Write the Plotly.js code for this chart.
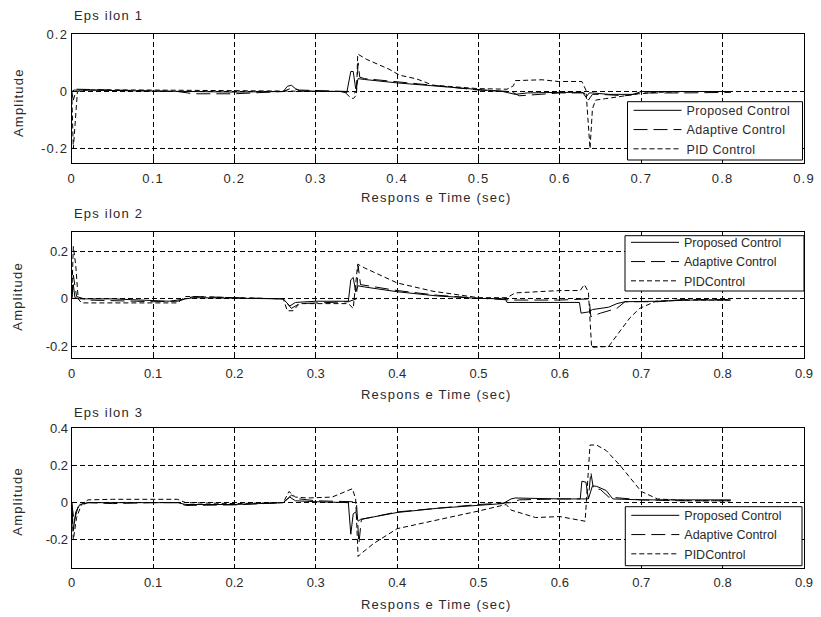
<!DOCTYPE html>
<html>
<head>
<meta charset="utf-8">
<script src="https://cdn.plot.ly/plotly-3.0.1.min.js"></script>
<style>
html,body{margin:0;padding:0;background:#fff;}
#chart{width:821px;height:617px;}
.xtick text,.ytick text,.annotation-text{letter-spacing:1.2px;}
.legendtext{letter-spacing:0.4px;}
</style>
</head>
<body>
<div id="chart"></div>
<script>
// ---------- data ----------
const seriesNames1 = ["Proposed Control", "Adaptive Control", "PID Control"];
const seriesNames2 = ["Proposed Control", "Adaptive Control", "PIDControl"];
const seriesNames3 = ["Proposed Control", "Adaptive Control", "PIDControl"];
const panelTitles = ["Eps ilon 1", "Eps ilon 2", "Eps ilon 3"];
const xTitle = "Respons e Time (sec)";
const yTitle = "Amplitude";

const xTickVals = [0, 0.1, 0.2, 0.3, 0.4, 0.5, 0.6, 0.7, 0.8, 0.9];
const xTickText = ["0", "0.1", "0.2", "0.3", "0.4", "0.5", "0.6", "0.7", "0.8", "0.9"];
const y1TickVals = [-0.2, 0, 0.2];
const y1TickText = ["-0.2", "0", "0.2"];
const y2TickVals = [-0.2, 0, 0.2];
const y2TickText = ["-0.2", "0", "0.2"];
const y3TickVals = [-0.2, 0, 0.2, 0.4];
const y3TickText = ["-0.2", "0", "0.2", "0.4"];

// Epsilon 1
const e1PropT = [0, 0.003, 0.008, 0.05, 0.1, 0.13, 0.2, 0.26, 0.265, 0.27, 0.275, 0.28, 0.33, 0.338, 0.341, 0.343, 0.346, 0.349, 0.352, 0.36, 0.4, 0.45, 0.5, 0.53, 0.545, 0.56, 0.6, 0.628, 0.632, 0.636, 0.64, 0.66, 0.69, 0.7, 0.75, 0.81];
const e1PropY = [0, 0.005, 0.005, 0.004, 0.003, 0, -0.002, 0, 0.018, 0.022, 0.01, 0.002, 0, -0.005, 0.05, 0.07, 0.07, 0.01, 0.045, 0.042, 0.03, 0.018, 0.005, 0, -0.01, -0.005, -0.003, -0.003, -0.02, -0.005, -0.005, -0.01, -0.01, 0, 0, 0];
const e1AdapT = [0, 0.002, 0.006, 0.05, 0.1, 0.13, 0.15, 0.2, 0.26, 0.27, 0.28, 0.34, 0.345, 0.35, 0.352, 0.354, 0.36, 0.4, 0.45, 0.5, 0.54, 0.55, 0.6, 0.63, 0.635, 0.64, 0.65, 0.68, 0.7, 0.75, 0.81];
const e1AdapY = [0, -0.03, 0.008, 0.006, 0.003, 0, -0.008, -0.008, 0, 0.012, 0.005, 0, -0.01, 0, 0.1, 0.05, 0.045, 0.035, 0.02, 0.005, 0, -0.015, -0.005, -0.005, -0.03, -0.01, -0.01, -0.015, -0.005, -0.005, -0.003];
const e1PidT = [0, 0.002, 0.007, 0.02, 0.1, 0.2, 0.25, 0.3, 0.335, 0.342, 0.346, 0.35, 0.3515, 0.362, 0.39, 0.403, 0.424, 0.444, 0.5, 0.535, 0.543, 0.545, 0.578, 0.598, 0.627, 0.632, 0.637, 0.64, 0.644, 0.656, 0.68, 0.697, 0.72, 0.76, 0.81];
const e1PidY = [0, -0.2, 0.0, 0.006, 0.005, 0.004, 0.003, 0.002, 0.0, -0.02, -0.025, -0.012, 0.131, 0.113, 0.078, 0.057, 0.044, 0.022, 0.01, 0.008, 0.02, 0.038, 0.041, 0.035, 0.035, 0.005, -0.2, -0.06, -0.03, -0.025, -0.015, -0.008, -0.003, 0, 0];

// Epsilon 2
const e2PropT = [0, 0.002, 0.004, 0.01, 0.05, 0.1, 0.12, 0.15, 0.2, 0.26, 0.268, 0.275, 0.3, 0.34, 0.343, 0.346, 0.349, 0.352, 0.36, 0.4, 0.45, 0.5, 0.533, 0.535, 0.6, 0.624, 0.626, 0.635, 0.64, 0.66, 0.67, 0.68, 0.72, 0.76, 0.81];
const e2PropY = [0, 0.06, 0.005, 0, 0, -0.005, -0.01, 0.005, 0.003, 0, -0.03, -0.015, -0.01, -0.01, 0.08, 0.09, 0.03, 0.055, 0.05, 0.03, 0.012, 0.002, 0, -0.015, -0.015, -0.015, -0.06, -0.055, -0.045, -0.035, -0.02, -0.012, -0.01, -0.005, -0.005];
const e2AdapT = [0, 0.002, 0.006, 0.02, 0.08, 0.1, 0.13, 0.15, 0.2, 0.26, 0.27, 0.28, 0.34, 0.35, 0.352, 0.355, 0.4, 0.45, 0.5, 0.54, 0.6, 0.63, 0.636, 0.638, 0.65, 0.67, 0.68, 0.72, 0.75, 0.81];
const e2AdapY = [0, 0.1, 0.01, -0.005, -0.01, -0.012, -0.01, 0.01, 0.005, 0, -0.04, -0.02, -0.012, 0, 0.14, 0.06, 0.035, 0.015, 0.003, -0.005, -0.005, -0.002, 0, -0.075, -0.06, -0.04, -0.012, -0.012, -0.003, -0.003];
const e2PidT = [0, 0.002, 0.005, 0.008, 0.012, 0.05, 0.1, 0.13, 0.14, 0.2, 0.26, 0.265, 0.272, 0.28, 0.34, 0.346, 0.3515, 0.36, 0.4, 0.444, 0.5, 0.535, 0.545, 0.6, 0.625, 0.63, 0.635, 0.639, 0.66, 0.674, 0.686, 0.698, 0.718, 0.76, 0.81];
const e2PidY = [0, 0.22, 0.14, 0, -0.017, -0.017, -0.017, -0.017, 0.01, 0.005, 0, -0.05, -0.05, -0.02, -0.02, -0.04, 0.146, 0.13, 0.067, 0.032, 0.005, 0.005, 0.025, 0.035, 0.035, 0.06, 0.03, -0.204, -0.2, -0.135, -0.08, -0.04, -0.01, -0.005, -0.005];

// Epsilon 3
const e3PropT = [0, 0.002, 0.005, 0.01, 0.02, 0.05, 0.1, 0.13, 0.14, 0.2, 0.23, 0.26, 0.268, 0.275, 0.3, 0.34, 0.343, 0.346, 0.349, 0.352, 0.355, 0.4, 0.45, 0.5, 0.53, 0.54, 0.545, 0.6, 0.625, 0.627, 0.632, 0.635, 0.64, 0.645, 0.657, 0.665, 0.7, 0.76, 0.81];
const e3PropY = [0, -0.15, -0.05, -0.01, 0, 0, 0, 0, -0.01, -0.01, -0.005, 0, 0.03, 0.01, 0.005, 0, -0.17, -0.06, -0.05, -0.1, -0.09, -0.053, -0.03, -0.012, -0.005, 0.02, 0.025, 0.02, 0.02, 0.115, 0.11, 0.02, 0.09, 0.088, 0.065, 0.02, 0.015, 0.015, 0.015];
const e3AdapT = [0, 0.003, 0.008, 0.02, 0.05, 0.08, 0.1, 0.13, 0.14, 0.2, 0.23, 0.26, 0.27, 0.28, 0.3, 0.345, 0.35, 0.353, 0.356, 0.4, 0.45, 0.5, 0.54, 0.55, 0.6, 0.635, 0.638, 0.641, 0.65, 0.66, 0.7, 0.75, 0.81];
const e3AdapY = [0, -0.1, -0.02, 0, -0.005, 0, 0, 0, -0.015, -0.012, -0.008, 0, 0.04, 0.02, 0.01, 0.005, 0, -0.22, -0.09, -0.05, -0.03, -0.01, 0, 0.015, 0.02, 0.02, 0.165, 0.08, 0.07, 0.03, 0.015, 0.01, 0.01];
const e3PidT = [0, 0.002, 0.006, 0.012, 0.02, 0.05, 0.1, 0.13, 0.14, 0.2, 0.26, 0.267, 0.275, 0.29, 0.32, 0.345, 0.349, 0.352, 0.354, 0.371, 0.4, 0.444, 0.5, 0.534, 0.54, 0.57, 0.6, 0.631, 0.634, 0.637, 0.645, 0.657, 0.674, 0.69, 0.7, 0.72, 0.76, 0.81];
const e3PidY = [0, -0.2, -0.08, -0.01, 0.015, 0.018, 0.018, 0.018, 0, -0.005, 0, 0.06, 0.03, 0.025, 0.03, 0.075, 0.02, -0.29, -0.28, -0.22, -0.14, -0.1, -0.045, -0.01, -0.04, -0.08, -0.075, -0.1, 0.1, 0.31, 0.31, 0.28, 0.2, 0.115, 0.06, 0.02, 0.01, 0.01];

// ---------- styling ----------
const FONT = "Liberation Sans, Arial, sans-serif";
const TXT = "#2a2a2a";
const dashes = ["solid", "14px,6px", "5px,3px"];

function mk(x, y, name, i, ax, leg) {
  return {
    x: x, y: y, name: name, type: "scatter", mode: "lines",
    xaxis: ax[0], yaxis: ax[1], legend: leg,
    line: {color: "#000", width: 1, dash: dashes[i]},
    hoverinfo: "skip"
  };
}

const data = [
  mk(e1PropT, e1PropY, seriesNames1[0], 0, ["x", "y"], "legend"),
  mk(e1AdapT, e1AdapY, seriesNames1[1], 1, ["x", "y"], "legend"),
  mk(e1PidT, e1PidY, seriesNames1[2], 2, ["x", "y"], "legend"),
  mk(e2PropT, e2PropY, seriesNames2[0], 0, ["x2", "y2"], "legend2"),
  mk(e2AdapT, e2AdapY, seriesNames2[1], 1, ["x2", "y2"], "legend2"),
  mk(e2PidT, e2PidY, seriesNames2[2], 2, ["x2", "y2"], "legend2"),
  mk(e3PropT, e3PropY, seriesNames3[0], 0, ["x3", "y3"], "legend3"),
  mk(e3AdapT, e3AdapY, seriesNames3[1], 1, ["x3", "y3"], "legend3"),
  mk(e3PidT, e3PidY, seriesNames3[2], 2, ["x3", "y3"], "legend3")
];

const W = 821, H = 617;
const xDom = [71.7 / W, 804 / W];
function yDom(top, bottom) { return [(H - bottom) / H, (H - top) / H]; }

function xAx(anchor) {
  return {
    domain: xDom, anchor: anchor, range: [0, 0.9],
    tickmode: "array", tickvals: xTickVals, ticktext: xTickText,
    ticks: "inside", ticklen: 4, tickcolor: "#000", tickwidth: 1,
    showline: true, linecolor: "#000", linewidth: 1, mirror: "ticks",
    showgrid: true, gridcolor: "#000", gridwidth: 1, griddash: "5px,3px",
    zeroline: false, ticklabelstandoff: 3,
    tickfont: {family: FONT, size: 13, color: TXT}
  };
}
function yAx(anchor, dom, range, tv, tt) {
  return {
    domain: dom, anchor: anchor, range: range,
    tickmode: "array", tickvals: tv, ticktext: tt,
    ticks: "inside", ticklen: 4, tickcolor: "#000", tickwidth: 1,
    showline: true, linecolor: "#000", linewidth: 1, mirror: "ticks",
    showgrid: true, gridcolor: "#000", gridwidth: 1, griddash: "5px,3px",
    zeroline: false, ticklabelstandoff: 0,
    tickfont: {family: FONT, size: 13, color: TXT}
  };
}
// legend frame boxes (pixel rectangles) drawn as shapes; legend entries placed inside
const legendBoxes = [[627.5, 101.7, 802.5, 160], [625, 235.7, 804, 291], [625.3, 506.7, 802, 565.7]];
const legendNudge = [6, 8, 6];
function leg(box, k) {
  return {
    x: (box[0] + 1) / W, y: (H - (box[1] - legendNudge[k])) / H, xanchor: "left", yanchor: "top",
    bgcolor: "rgba(0,0,0,0)", borderwidth: 0,
    font: {family: FONT, size: 12.5, color: TXT}, tracegroupgap: 0,
    traceorder: "normal", itemwidth: 48
  };
}
function boxShape(box) {
  return {
    type: "rect", xref: "paper", yref: "paper", layer: "above",
    x0: box[0] / W, x1: box[2] / W, y0: (H - box[3]) / H, y1: (H - box[1]) / H,
    line: {color: "#000", width: 1}, fillcolor: "#fff"
  };
}
function ann(text, px, py, opts) {
  return Object.assign({
    text: text, xref: "paper", yref: "paper", x: px / W, y: (H - py) / H,
    showarrow: false, font: {family: FONT, size: 13, color: TXT},
    xanchor: "center", yanchor: "middle"
  }, opts || {});
}

const layout = {
  width: W, height: H,
  margin: {l: 0, r: 0, t: 0, b: 0},
  paper_bgcolor: "#fff", plot_bgcolor: "#fff",
  showlegend: true,
  xaxis: xAx("y"),
  yaxis: yAx("x", yDom(34.3, 163), [-0.25, 0.2], y1TickVals, y1TickText),
  xaxis2: xAx("y2"),
  yaxis2: yAx("x2", yDom(232.3, 358.3), [-0.25, 0.28], y2TickVals, y2TickText),
  xaxis3: xAx("y3"),
  yaxis3: yAx("x3", yDom(428.3, 567.7), [-0.35, 0.4], y3TickVals, y3TickText),
  legend: leg(legendBoxes[0], 0),
  legend2: leg(legendBoxes[1], 1),
  legend3: leg(legendBoxes[2], 2),
  shapes: legendBoxes.map(boxShape),
  annotations: [
    ann(panelTitles[0], 72, 15, {xanchor: "left"}),
    ann(panelTitles[1], 72, 213, {xanchor: "left"}),
    ann(panelTitles[2], 72, 412.7, {xanchor: "left"}),
    ann(xTitle, 436, 198),
    ann(xTitle, 436, 395),
    ann(xTitle, 436, 604),
    ann(yTitle, 18, 103, {textangle: -90}),
    ann(yTitle, 18, 296.7, {textangle: -90}),
    ann(yTitle, 18, 501.7, {textangle: -90})
  ]
};

Plotly.newPlot("chart", data, layout, {staticPlot: true, displayModeBar: false});
</script>
</body>
</html>
